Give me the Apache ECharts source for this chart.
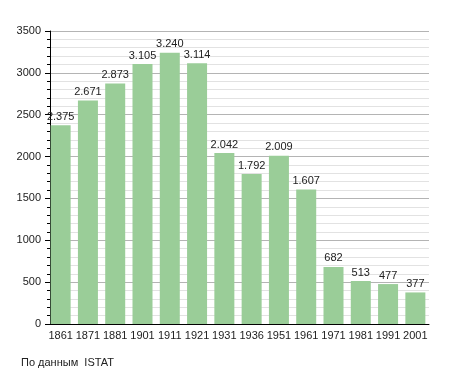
<!DOCTYPE html>
<html><head><meta charset="utf-8">
<script src="https://cdn.jsdelivr.net/npm/echarts@6/dist/echarts.min.js"></script>
<style>html,body{margin:0;padding:0;background:#fff}#c{width:455px;height:373px}</style>
</head><body><div id="c"></div>
<script>
const years = ['1861','1871','1881','1901','1911','1921','1931','1936','1951','1961','1971','1981','1991','2001'];
const population = [2375,2671,2873,3105,3240,3114,2042,1792,2009,1607,682,513,477,377];
const yTicks = [0,500,1000,1500,2000,2500,3000,3500];
const sourceNote = 'По данным  ISTAT';

function fmt(v){ return String(v).replace(/\B(?=(\d{3})+(?!\d))/g,'.'); }
const chart = echarts.init(document.getElementById('c'), null, {renderer:'canvas'});
chart.setOption({
  animation:false,
  textStyle:{fontFamily:'Liberation Sans, Arial, sans-serif'},
  grid:{left:47,right:26,top:31,bottom:49,containLabel:false},
  title:{text:sourceNote,left:21,top:357,padding:0,textStyle:{fontSize:11,fontWeight:'normal',color:'#222',fontFamily:'Liberation Sans, Arial, sans-serif'}},
  xAxis:{type:'category',data:years,boundaryGap:true,
    axisLine:{lineStyle:{color:'#000',width:1}},
    axisTick:{show:false},
    axisLabel:{color:'#222',fontSize:11,margin:6,interval:0}},
  yAxis:{type:'value',min:yTicks[0],max:yTicks[yTicks.length-1],interval:500,offset:-3,
    axisLine:{show:true,lineStyle:{color:'#000',width:1}},
    axisTick:{show:true,length:5,lineStyle:{color:'#000'}},
    minorTick:{show:true,splitNumber:5,length:3,lineStyle:{color:'#000'}},
    axisLabel:{color:'#222',fontSize:11,margin:9,formatter:v=>String(v)},
    splitLine:{show:true,lineStyle:{color:'#b4b4b4',width:1}},
    minorSplitLine:{show:true,lineStyle:{color:'#e2e2e2',width:1}}},
  series:[{type:'bar',data:population,barWidth:20,
    itemStyle:{color:'#9acd98'},
    label:{show:true,position:'top',distance:3,color:'#222',fontSize:11,formatter:p=>fmt(p.value)}}]
});
</script></body></html>
